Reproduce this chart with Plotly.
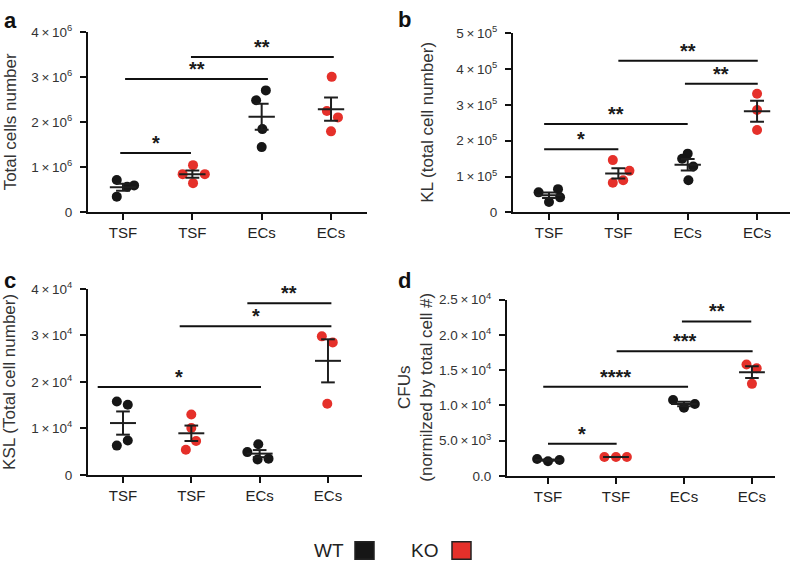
import numpy as np
import plotly.graph_objects as go

# ---------------- data ----------------
categories = ["TSF", "TSF", "ECs", "ECs"]
genotypes = ["WT", "KO", "WT", "KO"]

a_values = [[0.72e6, 0.35e6, 0.57e6, 0.60e6],
            [1.05e6, 0.85e6, 0.85e6, 0.65e6],
            [2.71e6, 2.49e6, 1.85e6, 1.45e6],
            [3.01e6, 2.25e6, 2.11e6, 1.80e6]]
b_values = [[0.56e5, 0.65e5, 0.29e5, 0.42e5],
            [1.46e5, 1.16e5, 0.90e5, 0.83e5],
            [1.64e5, 1.50e5, 1.28e5, 0.90e5],
            [3.31e5, 2.86e5, 2.30e5]]
c_values = [[1.58e4, 1.51e4, 0.63e4, 0.74e4],
            [1.30e4, 1.01e4, 0.73e4, 0.54e4],
            [0.66e4, 0.49e4, 0.33e4, 0.35e4],
            [2.98e4, 2.85e4, 1.53e4]]
d_values = [[2.39e3, 2.07e3, 2.25e3],
            [2.67e3, 2.67e3, 2.67e3],
            [10.75e3, 9.65e3, 10.2e3],
            [15.8e3, 15.26e3, 13.05e3]]

# significance comparisons: (x start, x end, height, label)
a_sig = [(-0.04, 0.98, 1.32e6, "*"), (0.03, 2.09, 2.96e6, "**"), (0.98, 3.04, 3.45e6, "**")]
b_sig = [(-0.07, 1.0, 1.76e5, "*"), (-0.07, 2.0, 2.47e5, "**"), (1.96, 3.01, 3.59e5, "**"), (1.0, 3.01, 4.23e5, "**")]
c_sig = [(-0.37, 2.02, 1.89e4, "*"), (0.83, 3.05, 3.2e4, "*"), (1.82, 3.05, 3.69e4, "**")]
d_sig = [(0.0, 1.01, 4.55e3, "*"), (-0.07, 2.06, 12.64e3, "****"), (1.01, 3.01, 17.69e3, "***"), (1.97, 2.99, 21.9e3, "**")]

X = "\u2009×\u2009"
a_ticks = [0, 1e6, 2e6, 3e6, 4e6]
a_ticktext = ["0", f"1{X}10<sup>6</sup>", f"2{X}10<sup>6</sup>", f"3{X}10<sup>6</sup>", f"4{X}10<sup>6</sup>"]
b_ticks = [0, 1e5, 2e5, 3e5, 4e5, 5e5]
b_ticktext = ["0", f"1{X}10<sup>5</sup>", f"2{X}10<sup>5</sup>", f"3{X}10<sup>5</sup>", f"4{X}10<sup>5</sup>", f"5{X}10<sup>5</sup>"]
c_ticks = [0, 1e4, 2e4, 3e4, 4e4]
c_ticktext = ["0", f"1{X}10<sup>4</sup>", f"2{X}10<sup>4</sup>", f"3{X}10<sup>4</sup>", f"4{X}10<sup>4</sup>"]
d_ticks = [0, 5e3, 1e4, 1.5e4, 2e4, 2.5e4]
d_ticktext = ["0.0", f"5.0{X}10<sup>3</sup>", f"1.0{X}10<sup>4</sup>", f"1.5{X}10<sup>4</sup>", f"2.0{X}10<sup>4</sup>", f"2.5{X}10<sup>4</sup>"]

# ---------------- style / layout (positions) ----------------
a_jitter = [[-0.09, -0.09, 0.06, 0.16], [0.01, -0.14, 0.18, 0.01], [0.06, -0.08, 0.01, 0.0], [0.01, -0.06, 0.10, 0.0]]
b_jitter = [[-0.15, 0.13, 0.0, 0.16], [-0.08, 0.16, 0.07, -0.08], [0.0, -0.08, 0.08, 0.01], [0.0, 0.0, 0.0]]
c_jitter = [[-0.09, 0.07, -0.09, 0.07], [0.0, 0.0, 0.07, -0.08], [-0.02, -0.18, -0.03, 0.13], [-0.09, 0.07, -0.01]]
d_jitter = [[-0.16, 0.0, 0.17], [-0.17, 0.0, 0.16], [-0.16, 0.0, 0.16], [-0.08, 0.07, 0.0]]

W, H = 792, 572
FONT = "Liberation Sans, Arial, Helvetica, sans-serif"
BLACK = "#161616"
RED = "#e5302a"
colors = {"WT": BLACK, "KO": RED}


def px(x):
    return x / W


def py(y):
    return 1 - y / H


panels = [
    dict(name="a", values=a_values, jitter=a_jitter, sig=a_sig, ticks=a_ticks, ticktext=a_ticktext,
         yrange=[0, 4e6], xdom=[px(88), px(367)], ydom=[py(209), py(23)], xrange=[-0.505, 3.519],
         title="Total cells number", title_x=10, letter_xy=(2, -4)),
    dict(name="b", values=b_values, jitter=b_jitter, sig=b_sig, ticks=b_ticks, ticktext=b_ticktext,
         yrange=[0, 5e5], xdom=[px(513), px(790)], ydom=[py(209), py(24)], xrange=[-0.519, 3.475],
         title="KL (total cell number)", title_x=428, letter_xy=(396, -5)),
    dict(name="c", values=c_values, jitter=c_jitter, sig=c_sig, ticks=c_ticks, ticktext=c_ticktext,
         yrange=[0, 4e4], xdom=[px(88), px(362)], ydom=[py(480), py(288)], xrange=[-0.512, 3.498],
         title="KSL (Total cell number)", title_x=10, letter_xy=(2, 264)),
    dict(name="d", values=d_values, jitter=d_jitter, sig=d_sig, ticks=d_ticks, ticktext=d_ticktext,
         yrange=[0, 2.5e4], xdom=[px(507), px(775)], ydom=[py(481), py(299)], xrange=[-0.603, 3.339],
         title="CFUs<br>(normilzed by total cell #)", title_x=416, letter_xy=(396, 264)),
]

fig = go.Figure()
annotations = []
shapes = []
MEAN_HW = 0.19
CAP_HW = 0.10

for i, p in enumerate(panels):
    k = "" if i == 0 else str(i + 1)
    xa, ya = "x" + k, "y" + k
    # points
    for g, (vals, jit) in enumerate(zip(p["values"], p["jitter"])):
        xs = [g + j for j in jit]
        fig.add_trace(go.Scatter(x=xs, y=vals, mode="markers", xaxis=xa, yaxis=ya,
                                 marker=dict(size=10, color=colors[genotypes[g]], line=dict(width=0)),
                                 showlegend=False, hoverinfo="y"))
        arr = np.array(vals)
        m = arr.mean()
        sem = arr.std(ddof=1) / np.sqrt(len(arr))
        lx = [g - MEAN_HW, g + MEAN_HW, None, g - CAP_HW, g + CAP_HW, None,
              g - CAP_HW, g + CAP_HW, None, g, g]
        ly = [m, m, None, m + sem, m + sem, None, m - sem, m - sem, None, m - sem, m + sem]
        fig.add_trace(go.Scatter(x=lx, y=ly, mode="lines", xaxis=xa, yaxis=ya,
                                 line=dict(color="#1e1e1e", width=2), showlegend=False, hoverinfo="skip"))
    # significance bars
    for (x0, x1, yv, lab) in p["sig"]:
        fig.add_trace(go.Scatter(x=[x0, x1], y=[yv, yv], mode="lines", xaxis=xa, yaxis=ya,
                                 line=dict(color="#111", width=2), showlegend=False, hoverinfo="skip"))
        annotations.append(dict(x=(x0 + x1) / 2, y=yv, xref=xa, yref=ya, text="<b>" + lab + "</b>",
                                showarrow=False, yanchor="bottom", yshift=-3,
                                font=dict(family=FONT, size=20, color="#1a1a1a")))
    # axes
    fig.update_layout(**{
        ("xaxis" + k): dict(domain=p["xdom"], range=p["xrange"], anchor=ya, tickvals=[0, 1, 2, 3],
                            ticktext=categories, showline=True, linecolor="#111", linewidth=2,
                            ticks="outside", ticklen=6, tickwidth=2, tickcolor="#111",
                            showgrid=False, zeroline=False,
                            tickfont=dict(family=FONT, size=15, color="#222")),
        ("yaxis" + k): dict(domain=p["ydom"], range=p["yrange"], anchor=xa, tickvals=p["ticks"],
                            ticktext=p["ticktext"], showline=True, linecolor="#111", linewidth=2,
                            ticks="outside", ticklen=6, tickwidth=2, tickcolor="#111",
                            showgrid=False, zeroline=False, ticklabelstandoff=5,
                            tickfont=dict(family=FONT, size=13.5, color="#333")),
    })
    # y-axis title
    ymid = (p["ydom"][0] + p["ydom"][1]) / 2
    annotations.append(dict(x=px(p["title_x"]), y=ymid, xref="paper", yref="paper", text=p["title"],
                            textangle=-90, showarrow=False, xanchor="center", yanchor="middle",
                            font=dict(family=FONT, size=17, color="#333")))
    # panel letter
    lx0, ly0 = p["letter_xy"]
    annotations.append(dict(x=px(lx0), y=py(ly0), xref="paper", yref="paper", text="<b>" + p["name"] + "</b>",
                            showarrow=False, xanchor="left", yanchor="top",
                            font=dict(family=FONT, size=22, color="#111")))

# legend (text + squares)
legend_items = ["WT", "KO"]
legend_text_x = [312, 409]
legend_box_x = [355, 452]
for lab, tx, bx in zip(legend_items, legend_text_x, legend_box_x):
    annotations.append(dict(x=px(tx), y=py(558), xref="paper", yref="paper", text=lab, showarrow=False,
                            xanchor="left", yanchor="middle", font=dict(family=FONT, size=19, color="#222")))
    shapes.append(dict(type="rect", xref="paper", yref="paper", x0=px(bx), x1=px(bx + 19),
                       y0=py(567), y1=py(549), fillcolor=colors[lab], line=dict(color="#222", width=1.5)))

fig.update_layout(width=W, height=H, margin=dict(l=0, r=0, t=0, b=0),
                  paper_bgcolor="white", plot_bgcolor="white",
                  annotations=annotations, shapes=shapes, showlegend=False,
                  font=dict(family=FONT))

fig.write_html("out.html", config={"displayModeBar": False},
               post_script="document.body.style.margin='0px';")
